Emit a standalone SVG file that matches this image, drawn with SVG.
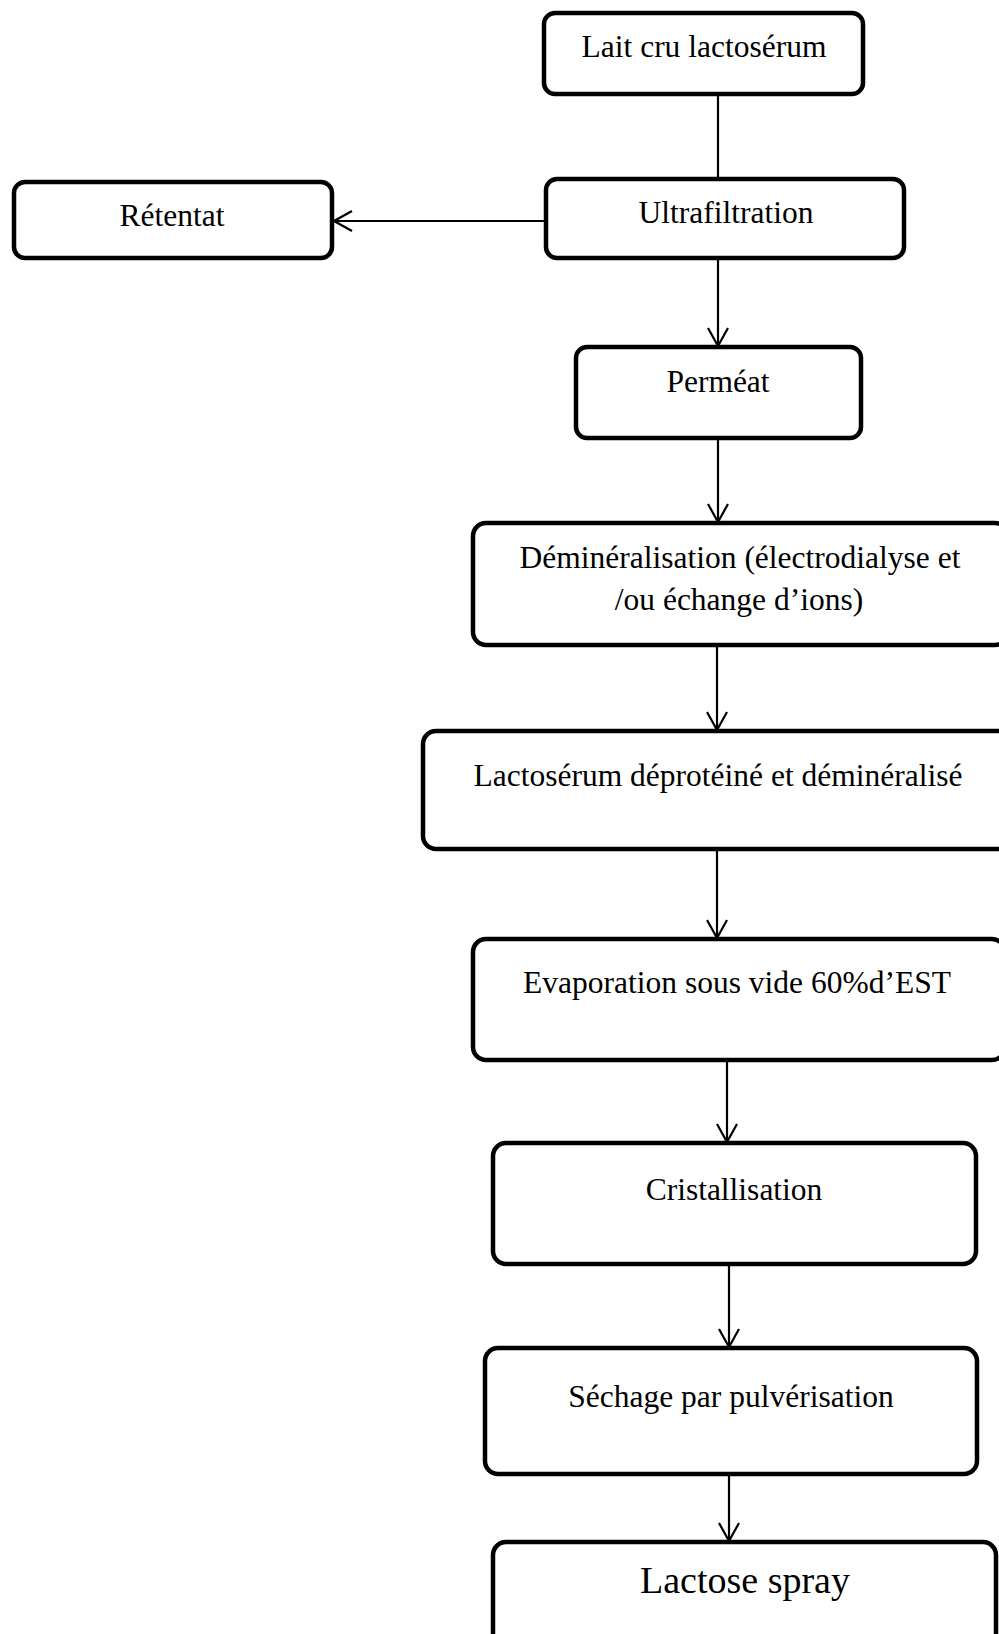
<svg xmlns="http://www.w3.org/2000/svg" width="999" height="1634" viewBox="0 0 999 1634">
  <style>
    .box { fill: #ffffff; stroke: #000000; stroke-width: 4.5; }
    .lbl { font-family: "Liberation Serif", "Times New Roman", serif; font-size: 31.5px; fill: #000000; text-anchor: middle; }
    .big { font-size: 38px; }
    .edge { fill: none; stroke: #000000; stroke-width: 2.2; }
  </style>
  <defs>
    <marker id="vee" viewBox="0 0 20 22" refX="19" refY="11" markerWidth="20" markerHeight="22" markerUnits="userSpaceOnUse" orient="auto">
      <path d="M1,1 L19,11 L1,21" fill="none" stroke="#000000" stroke-width="2.2"/>
    </marker>
  </defs>

  <rect width="999" height="1634" fill="#ffffff"/>

  <g id="connectors">
    <line class="edge" x1="718" y1="94" x2="718" y2="179"/>
    <line class="edge" x1="546" y1="221" x2="334" y2="221" marker-end="url(#vee)"/>
    <line class="edge" x1="718" y1="258" x2="718" y2="346" marker-end="url(#vee)"/>
    <line class="edge" x1="718" y1="438" x2="718" y2="522" marker-end="url(#vee)"/>
    <line class="edge" x1="717" y1="645" x2="717" y2="730" marker-end="url(#vee)"/>
    <line class="edge" x1="717" y1="849" x2="717" y2="938" marker-end="url(#vee)"/>
    <line class="edge" x1="727" y1="1060" x2="727" y2="1142" marker-end="url(#vee)"/>
    <line class="edge" x1="729" y1="1264" x2="729" y2="1347" marker-end="url(#vee)"/>
    <line class="edge" x1="729" y1="1474" x2="729" y2="1541" marker-end="url(#vee)"/>
  </g>

  <g id="n-lait">
    <rect class="box" x="544" y="13" width="319" height="81" rx="11"/>
    <text class="lbl" x="704" y="57">Lait cru lactosérum</text>
  </g>
  <g id="n-ultrafiltration">
    <rect class="box" x="546" y="179" width="358" height="79" rx="11"/>
    <text class="lbl" x="726" y="223">Ultrafiltration</text>
  </g>
  <g id="n-retentat">
    <rect class="box" x="14" y="182" width="318" height="76" rx="11"/>
    <text class="lbl" x="172" y="226">Rétentat</text>
  </g>
  <g id="n-permeat">
    <rect class="box" x="576" y="347" width="285" height="91" rx="11"/>
    <text class="lbl" x="718" y="392">Perméat</text>
  </g>
  <g id="n-demineralisation">
    <rect class="box" x="473" y="523" width="535" height="122" rx="13"/>
    <text class="lbl" x="740" y="568">Déminéralisation (électrodialyse et</text>
    <text class="lbl" x="739" y="610">/ou échange d’ions)</text>
  </g>
  <g id="n-lactoserum">
    <rect class="box" x="423" y="731" width="590" height="118" rx="13"/>
    <text class="lbl" x="718" y="786">Lactosérum déprotéiné et déminéralisé</text>
  </g>
  <g id="n-evaporation">
    <rect class="box" x="473" y="939" width="532" height="121" rx="13"/>
    <text class="lbl" x="737" y="993">Evaporation sous vide 60%d’EST</text>
  </g>
  <g id="n-cristallisation">
    <rect class="box" x="493" y="1143" width="483" height="121" rx="13"/>
    <text class="lbl" x="734" y="1200">Cristallisation</text>
  </g>
  <g id="n-sechage">
    <rect class="box" x="485" y="1348" width="492" height="126" rx="13"/>
    <text class="lbl" x="731" y="1407">Séchage par pulvérisation</text>
  </g>
  <g id="n-lactose">
    <rect class="box" x="493" y="1542" width="503" height="110" rx="13"/>
    <text class="lbl big" x="745" y="1593">Lactose spray</text>
  </g>
</svg>
